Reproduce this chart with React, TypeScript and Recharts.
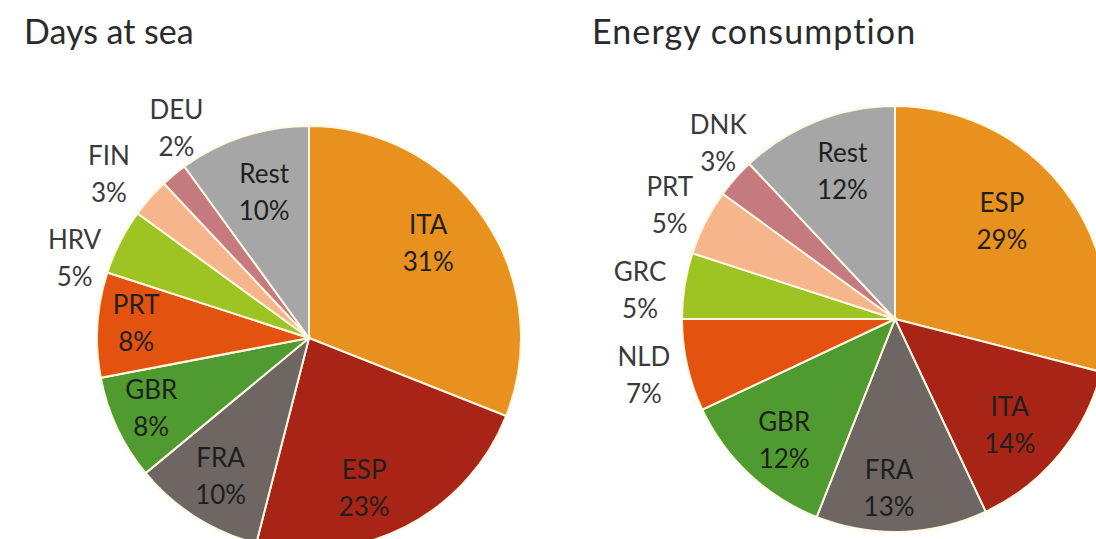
import React from "react";
import { PieChart, Pie, Cell } from "recharts";

const daysNames = ["ITA", "ESP", "FRA", "GBR", "PRT", "HRV", "FIN", "DEU", "Rest"];
const daysValues = [31, 23, 10, 8, 8, 5, 3, 2, 10];
const energyNames = ["ESP", "ITA", "FRA", "GBR", "NLD", "GRC", "PRT", "DNK", "Rest"];
const energyValues = [29, 14, 13, 12, 7, 5, 5, 3, 12];
const daysOutside = ["HRV", "FIN", "DEU"];
const energyOutside = ["NLD", "GRC", "PRT", "DNK"];

const sliceColors = [
  "#E8911E",
  "#A72417",
  "#6D6663",
  "#4F9B30",
  "#E3520F",
  "#9EC423",
  "#F7B58C",
  "#C57A80",
  "#A6A6A6",
];

// label placement tweaks (pixels), kept apart from the data
const daysNudge: Record<string, [number, number]> = {
  ITA: [-14, -7],
  ESP: [-18, 3],
  FRA: [-2, -1],
  GBR: [-12, -2],
  PRT: [-12, -8],
  HRV: [-17, 28],
  FIN: [-17, -6],
  DEU: [23, -25],
  Rest: [5, 4],
};
const energyNudge: Record<string, [number, number]> = {
  ESP: [-21, -2],
  ITA: [-10, 0],
  FRA: [-11, 4],
  GBR: [0, 0],
  NLD: [-12, 0],
  GRC: [-13, 6],
  PRT: [-7, -6],
  DNK: [7, -17],
  Rest: [7, 0],
};

const FONT = "Lato, 'Open Sans', sans-serif";
const RADIAN = Math.PI / 180;

const daysData = daysNames.map((name, i) => ({ name, value: daysValues[i] }));
const energyData = energyNames.map((name, i) => ({ name, value: energyValues[i] }));

function makeLabel(outside: string[], nudge: Record<string, [number, number]>) {
  return (props: any) => {
    const { cx, cy, midAngle, outerRadius, name, value } = props;
    const isOut = outside.includes(name);
    const r = isOut ? outerRadius + 32 : outerRadius * 0.76;
    const [nx, ny] = nudge[name] || [0, 0];
    const x = cx + r * Math.cos(-midAngle * RADIAN) + nx;
    const y = cy + r * Math.sin(-midAngle * RADIAN) + ny;
    const fill = isOut ? "#3a3a3a" : "#1f1f1f";
    return (
      <text
        x={x}
        y={y}
        textAnchor="middle"
        fontFamily={FONT}
        fontSize={26}
        fill={fill}
      >
        <tspan x={x} dy={-6}>{name}</tspan>
        <tspan x={x} dy={37}>{value + "%"}</tspan>
      </text>
    );
  };
}

export default function App() {
  return (
    <div style={{ position: "absolute", left: 0, top: 0, width: 1096, height: 539, background: "#fff", overflow: "hidden" }}>
      <div style={{ position: "absolute", left: 24, top: 10, fontFamily: FONT, fontSize: 34, color: "#2a2a2a", whiteSpace: "nowrap" }}>
        Days at sea
      </div>
      <div style={{ position: "absolute", left: 592, top: 10, fontFamily: FONT, fontSize: 34, letterSpacing: 1.1, color: "#2a2a2a", whiteSpace: "nowrap" }}>
        Energy consumption
      </div>
      <div style={{ position: "absolute", left: 0, top: 0 }}>
        <PieChart width={1096} height={539}>
          <Pie
            data={daysData}
            dataKey="value"
            nameKey="name"
            cx={304}
            cy={333}
            outerRadius={212}
            startAngle={90}
            endAngle={-270}
            stroke="#FFF8E2"
            strokeWidth={2}
            label={makeLabel(daysOutside, daysNudge)}
            labelLine={false}
            isAnimationActive={false}
          >
            {daysData.map((d, i) => (
              <Cell key={d.name} fill={sliceColors[i]} />
            ))}
          </Pie>
          <Pie
            data={energyData}
            dataKey="value"
            nameKey="name"
            cx={890}
            cy={314}
            outerRadius={213}
            startAngle={90}
            endAngle={-270}
            stroke="#FFF8E2"
            strokeWidth={2}
            label={makeLabel(energyOutside, energyNudge)}
            labelLine={false}
            isAnimationActive={false}
          >
            {energyData.map((d, i) => (
              <Cell key={d.name} fill={sliceColors[i]} />
            ))}
          </Pie>
        </PieChart>
      </div>
    </div>
  );
}
